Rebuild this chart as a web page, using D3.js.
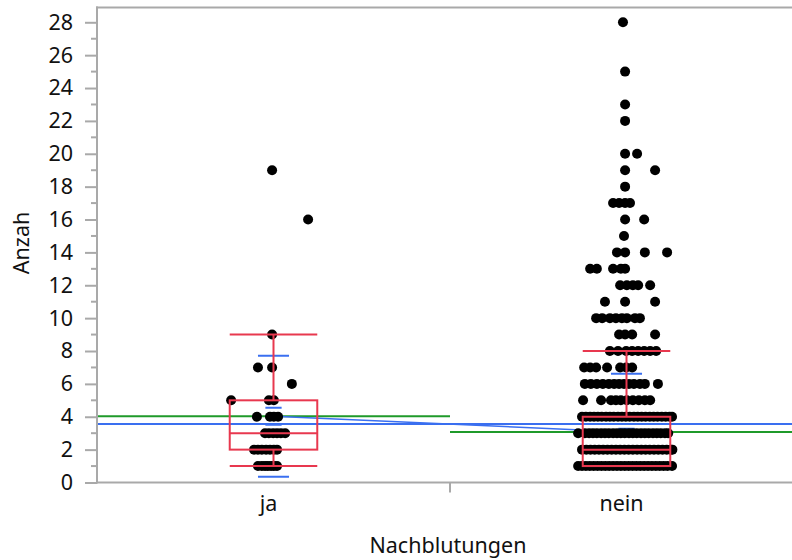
<!DOCTYPE html>
<html>
<head>
<meta charset="utf-8">
<script src="https://cdn.jsdelivr.net/npm/d3@7"></script>
<style>
  html, body { margin: 0; padding: 0; background: #fff; }
  svg { display: block; }
  text { font-family: "Noto Sans", "Open Sans", sans-serif; fill: #111; }
</style>
</head>
<body>
<svg id="chart" width="792" height="560"></svg>
<script>
// ---------- data ----------
const categories = ["ja", "nein"];
const xTitle = "Nachblutungen";
const yTitle = "Anzah";
const yTicks = [0, 2, 4, 6, 8, 10, 12, 14, 16, 18, 20, 22, 24, 26, 28];

// points: [value, jitter offsets (percent of category width)]
const jaRows = [
  [19, [-0.4]],
  [16, [9.8]],
  [9, [-0.4]],
  [7, [-4.4, -0.4]],
  [6, [5.2]],
  [5, [-12.0, -1.3, 0.1]],
  [4, [-4.7, -1.0, 0.1, 1.3]],
  [3, [-2.4, -1.3, -0.1, 1.0, 2.1, 3.3]],
  [2, [-5.5, -4.4, -3.3, -2.1, -1.0, 0.1, 1.0]],
  [1, [-4.4, -3.3, -2.4, -1.6, -0.7, 0.1, 1.0]]
];
const neinRows = [
  [28, [-1.0]],
  [25, [-0.4]],
  [23, [-0.4]],
  [22, [-0.4]],
  [20, [-0.4, 3.0]],
  [19, [-0.4, 8.1]],
  [18, [-0.4]],
  [17, [-3.8, -2.1, -0.4, 1.0]],
  [16, [-0.4, 5.0]],
  [15, [-0.7]],
  [14, [-2.7, -0.4, 5.2, 11.5]],
  [13, [-10.3, -8.4, -3.8, -1.6, -0.4]],
  [12, [-1.8, 0.1, 1.8, 3.3, 6.7]],
  [11, [-6.1, -0.4, 8.1]],
  [10, [-8.6, -6.9, -4.7, -3.0, -1.3, 0.1, 2.4, 3.8]],
  [9, [-2.1, -0.4, 1.6, 8.1]],
  [8, [-4.7, -2.4, -0.1, 1.6, 3.3, 5.0, 6.7, 8.4]],
  [7, [-12.0, -10.3, -8.6, -5.5, -1.8, -0.1, 1.6]],
  [6, [-11.8, -10.1, -8.4, -6.7, -5.0, -3.5, -2.1, -0.7, 0.7, 2.1, 3.8, 5.2, 8.9]],
  [5, [-12.3, -7.2, -4.4, -3.0, -1.6, 0.1, 1.8, 3.5, 5.2, 6.7]],
  [4, [-12.6, -11.5, -10.3, -9.2, -8.1, -7.0, -5.8, -4.7, -3.6, -2.4, -1.3, -0.2, 0.9, 2.1, 3.2, 4.3, 5.4, 6.6, 7.7, 8.8, 10.0, 11.1, 12.2, 12.9]],
  [3, [-13.7, -11.8, -10.6, -9.5, -8.4, -7.2, -6.1, -5.0, -3.8, -2.7, -1.6, -0.5, 0.7, 1.8, 2.9, 4.1, 5.2, 6.3, 7.5, 8.6, 9.7, 10.9, 11.8]],
  [2, [-12.6, -11.4, -10.2, -9.0, -7.8, -6.6, -5.4, -4.2, -3.0, -1.8, -0.6, 0.6, 1.8, 3.0, 4.2, 5.4, 6.6, 7.8, 9.0, 10.2, 11.4, 12.6, 13.0]],
  [1, [-13.7, -12.6, -11.5, -10.4, -9.3, -8.2, -7.1, -6.0, -4.9, -3.8, -2.7, -1.6, -0.5, 0.6, 1.7, 2.8, 3.9, 5.0, 6.1, 7.2, 8.3, 9.4, 10.5, 11.6, 12.9]]
];

// box plot statistics per category
const q1 = [2, 1];
const medians = [3, 2];
const q3 = [5, 4];
const whiskerLo = [1, 1];
const whiskerHi = [9, 8];
// means, standard deviations, CI half widths
const means = [4.03, 3.07];
const sds = [3.68, 3.55];
const ciHalf = [0.52, 0.2];
const grandMean = 3.56;

// ---------- layout ----------
const svg = d3.select("#chart");
const pLeft = 97, pRight = 803, pTop = 7.5, pBottom = 482.5;
const clipRight = 792;
const fontSize = "21.5px";

const y = d3.scaleLinear().domain([0, 28.9]).range([pBottom, pTop]);
const x = d3.scaleBand().domain(categories).range([pLeft, pRight]).padding(0);
const bw = x.bandwidth();
const cx = c => x(c) + bw / 2;
const jitter = d3.scaleLinear().domain([-50, 50]).range([-bw / 2, bw / 2]);

const red = "#e8384f", blue = "#3a6ff0", green = "#1f9a2a", axisCol = "#a9a9a9";

svg.append("defs").append("clipPath").attr("id", "clip")
  .append("rect").attr("x", pLeft).attr("y", pTop).attr("width", clipRight - pLeft).attr("height", pBottom - pTop);

const plot = svg.append("g").attr("clip-path", "url(#clip)");

// group mean lines (green) across each category
plot.selectAll(".meanline").data(categories).enter().append("line")
  .attr("x1", c => x(c)).attr("x2", c => x(c) + bw)
  .attr("y1", (c, i) => y(means[i])).attr("y2", (c, i) => y(means[i]))
  .attr("stroke", green).attr("stroke-width", 2);

// grand mean (blue)
plot.append("line")
  .attr("x1", pLeft).attr("x2", clipRight)
  .attr("y1", y(grandMean)).attr("y2", y(grandMean))
  .attr("stroke", blue).attr("stroke-width", 2);

// connect means
plot.append("path")
  .datum(categories)
  .attr("d", d3.line().x(c => cx(c)).y((c, i) => y(means[i])))
  .attr("fill", "none").attr("stroke", blue).attr("stroke-width", 1.5);

// std dev and CI marks (blue), beneath points
const sdHalf = jitter(4.4), ciW = jitter(2.3);
const sg = plot.selectAll(".sd").data(categories).enter().append("g");
[-1, 1].forEach(s => {
  sg.append("line")
    .attr("x1", c => cx(c) - sdHalf).attr("x2", c => cx(c) + sdHalf)
    .attr("y1", (c, i) => y(means[i] + s * sds[i])).attr("y2", (c, i) => y(means[i] + s * sds[i]))
    .attr("stroke", blue).attr("stroke-width", 2);
  sg.append("line")
    .attr("x1", c => cx(c) - ciW).attr("x2", c => cx(c) + ciW)
    .attr("y1", (c, i) => y(means[i] + s * ciHalf[i])).attr("y2", (c, i) => y(means[i] + s * ciHalf[i]))
    .attr("stroke", blue).attr("stroke-width", 2);
});

// points
const pts = [];
[jaRows, neinRows].forEach((rows, gi) => {
  rows.forEach(([v, offs]) => offs.forEach(o => pts.push({ c: categories[gi], v, o })));
});
plot.selectAll(".pt").data(pts).enter().append("circle")
  .attr("cx", d => cx(d.c) + jitter(d.o))
  .attr("cy", d => y(d.v))
  .attr("r", 5)
  .attr("fill", "#000");

// box plots (red)
const boxHalf = jitter(12.4);
const g = plot.selectAll(".box").data(categories).enter().append("g");
g.append("line")
  .attr("x1", c => cx(c)).attr("x2", c => cx(c))
  .attr("y1", (c, i) => y(q3[i])).attr("y2", (c, i) => y(whiskerHi[i]))
  .attr("stroke", red).attr("stroke-width", 2);
g.append("line")
  .attr("x1", c => cx(c)).attr("x2", c => cx(c))
  .attr("y1", (c, i) => y(whiskerLo[i])).attr("y2", (c, i) => y(q1[i]))
  .attr("stroke", red).attr("stroke-width", 2);
g.append("rect")
  .attr("x", c => cx(c) - boxHalf).attr("width", 2 * boxHalf)
  .attr("y", (c, i) => y(q3[i])).attr("height", (c, i) => y(q1[i]) - y(q3[i]))
  .attr("fill", "none").attr("stroke", red).attr("stroke-width", 2);
g.append("line")
  .attr("x1", c => cx(c) - boxHalf).attr("x2", c => cx(c) + boxHalf)
  .attr("y1", (c, i) => y(medians[i])).attr("y2", (c, i) => y(medians[i]))
  .attr("stroke", red).attr("stroke-width", 2);
[whiskerLo, whiskerHi].forEach(arr => {
  g.append("line")
    .attr("x1", c => cx(c) - boxHalf).attr("x2", c => cx(c) + boxHalf)
    .attr("y1", (c, i) => y(arr[i])).attr("y2", (c, i) => y(arr[i]))
    .attr("stroke", red).attr("stroke-width", 2);
});

// ---------- axes ----------
const yAxis = d3.axisLeft(y).tickValues(yTicks).tickSize(12).tickPadding(12).tickFormat(d3.format("d"));
const yg = svg.append("g").attr("transform", `translate(${pLeft},0)`).call(yAxis);
yg.select(".domain").remove();
yg.selectAll(".tick line").attr("stroke", axisCol).attr("stroke-width", 2);
yg.selectAll(".tick text").style("font-size", fontSize).attr("fill", "#111")
  .style("font-family", '"Noto Sans", sans-serif');
// minor ticks
const minor = d3.range(1, 29, 2);
svg.append("g").selectAll("line").data(minor).enter().append("line")
  .attr("x1", pLeft - 6).attr("x2", pLeft)
  .attr("y1", d => y(d)).attr("y2", d => y(d))
  .attr("stroke", axisCol).attr("stroke-width", 2);

// frame lines
svg.append("line").attr("x1", pLeft).attr("x2", pLeft).attr("y1", pTop - 1).attr("y2", pBottom + 1)
  .attr("stroke", axisCol).attr("stroke-width", 2);
svg.append("line").attr("x1", pLeft - 1).attr("x2", clipRight).attr("y1", pTop).attr("y2", pTop)
  .attr("stroke", axisCol).attr("stroke-width", 2);
svg.append("line").attr("x1", pLeft - 1).attr("x2", clipRight).attr("y1", pBottom).attr("y2", pBottom)
  .attr("stroke", axisCol).attr("stroke-width", 2);

// x tick between categories
svg.append("line")
  .attr("x1", x(categories[1])).attr("x2", x(categories[1]))
  .attr("y1", pBottom).attr("y2", pBottom + 10)
  .attr("stroke", axisCol).attr("stroke-width", 2);

// x labels
svg.selectAll(".xl").data(categories).enter().append("text")
  .attr("x", c => cx(c) - 5).attr("y", 511)
  .attr("text-anchor", "middle").style("font-size", fontSize)
  .text(c => c);

svg.append("text").attr("x", 448).attr("y", 553)
  .attr("text-anchor", "middle").style("font-size", fontSize).text(xTitle);

svg.append("text")
  .attr("transform", `translate(29,243) rotate(-90)`)
  .attr("text-anchor", "middle").style("font-size", fontSize).text(yTitle);
</script>
</body>
</html>
